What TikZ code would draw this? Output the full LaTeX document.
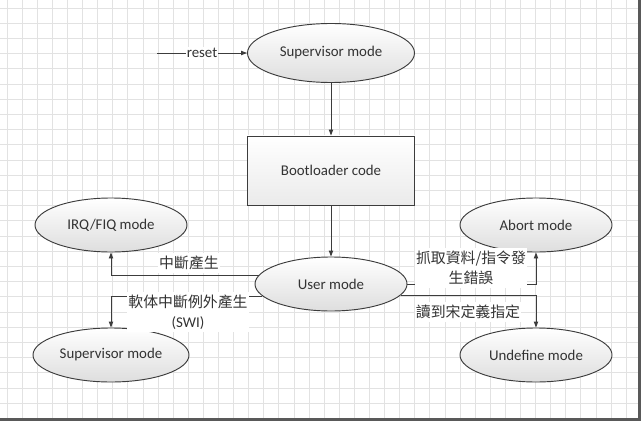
\documentclass[tikz,border=0pt]{standalone}
\usepackage{fontspec}
\setmainfont{Carlito}
\newfontfamily\cjk{Noto Sans CJK TC}
\usetikzlibrary{shapes.geometric,arrows.meta}
\definecolor{edge}{HTML}{3C3C3C}
\definecolor{txt}{HTML}{333333}
\definecolor{gridc}{HTML}{E2E2E2}
\begin{document}
\begin{tikzpicture}[x=0.03cm,y=-0.03cm,font=\fontsize{12.7}{17}\selectfont,text=txt]
		\tikzstyle{mode}=[ellipse,draw=edge,line width=0.8pt,top color=white,bottom color=black!13,minimum width=4.56cm,minimum height=1.62cm]
		\tikzstyle{code}=[rectangle,draw=edge,line width=0.8pt,top color=white,bottom color=black!8,minimum width=5.01cm,minimum height=2.07cm]
		\tikzstyle{link}=[draw=edge,line width=0.8pt,-{Triangle[length=1.8mm,width=1.3mm]}]
		\tikzstyle{lbl}=[fill=white,inner xsep=1pt,inner ysep=2.5pt,align=center]
		\useasboundingbox (0,0) rectangle (644,424);
		\fill [white] (0,0) rectangle (644,424);
		\begin{scope}
		\clip (0,0) rectangle (638,418);
		\foreach \i in {0,...,42} \draw [gridc,line width=0.6pt] (7+15.1*\i,0) -- (7+15.1*\i,418);
		\foreach \j in {0,...,27} \draw [gridc,line width=0.6pt] (0,8+15.2*\j) -- (638,8+15.2*\j);
		\end{scope}
		\draw [black!65,line width=2.6pt] (639.5,0) -- (639.5,419.5) -- (0,419.5);
		\node [mode,minimum width=5.01cm,minimum height=1.77cm] (sup) at (331,53) {Supervisor mode};
		\node [code] (boot) at (331,170.5) {Bootloader code};
		\node [mode] (user) at (331,284) {User mode};
		\node [mode] (irq) at (111,225) {IRQ/FIQ mode};
		\node [mode] (svc) at (111,355) {Supervisor mode};
		\node [mode] (abt) at (536,225) {Abort mode};
		\node [mode] (und) at (536,355) {Undefine mode};
		\coordinate (rst) at (157,53);
		\draw [link] (rst) -- node [lbl,inner ysep=1pt] {reset} (sup);
		\draw [link] (sup) -- (boot);
		\draw [link] (boot) -- (user);
		\draw [link] (user.173) -| (irq);
		\draw [link] (user.190) -| (svc);
		\draw [link] (user.east) -| (abt);
		\draw [link] (user.351) -| (und);
		\node [lbl] (irqlbl) at (189,263) {\cjk 中斷產生};
		\node [lbl] (svclbl) at (188,312) {{\cjk 軟体中斷例外產生}\\(SWI)};
		\node [lbl] (abtlbl) at (471,268) {\cjk 抓取資料/指令發\\\cjk 生錯誤};
		\node [lbl] (undlbl) at (468,312) {\cjk 讀到宋定義指定};
\end{tikzpicture}
\end{document}
